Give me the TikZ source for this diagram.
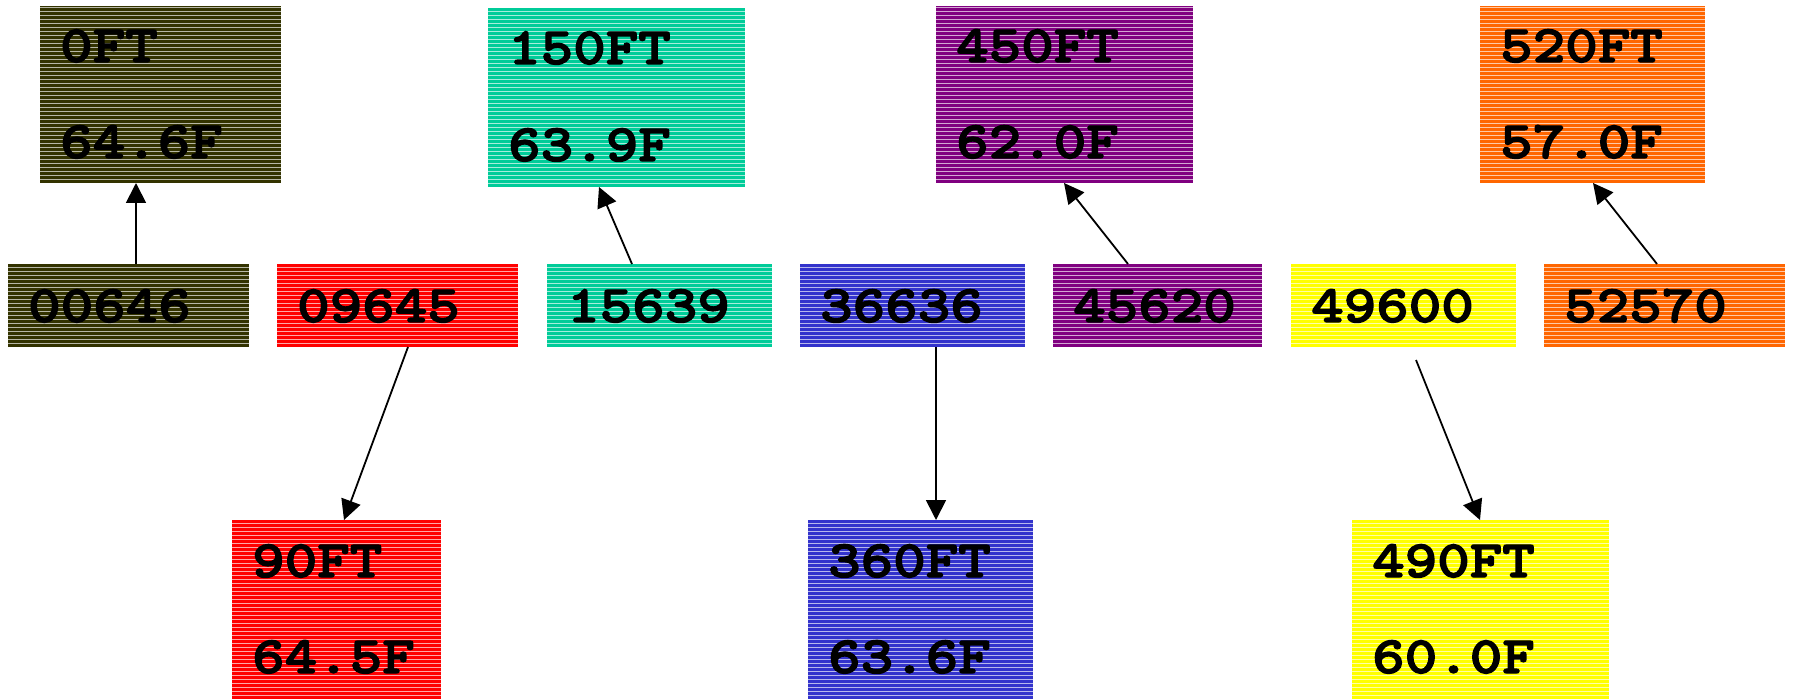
\documentclass[tikz,border=0pt]{standalone}
\usepackage{fontspec}
\newfontfamily\cour{lmmonolt10-bold.otf}[FakeStretch=1.18,FakeBold=2.5]
\usetikzlibrary{arrows.meta,patterns}
\pgfdeclarepatternformonly{hstripes}{\pgfpointorigin}{\pgfpoint{100pt}{4pt}}{\pgfpoint{100pt}{4pt}}{%
  \pgfsetlinewidth{0.6pt}%
  \pgfpathmoveto{\pgfpoint{-1pt}{0.5pt}}\pgfpathlineto{\pgfpoint{101pt}{0.5pt}}\pgfusepath{stroke}}
\definecolor{olive}{HTML}{333300}
\definecolor{teal}{HTML}{00CC99}
\definecolor{purp}{HTML}{800080}
\definecolor{orng}{HTML}{FF6600}
\definecolor{redc}{HTML}{FF0000}
\definecolor{blu}{HTML}{3333CC}
\definecolor{yel}{HTML}{FFFF00}
\tikzset{
  box/.style={rectangle, inner sep=0pt, outer sep=0pt, anchor=north west,
    postaction={pattern=hstripes, pattern color=white}},
  txt/.style={anchor=base west, inner sep=0pt, font=\cour\fontsize{52.5}{60}\selectfont},
  conn/.style={line width=1.8pt, -{Triangle[length=20pt,width=20pt]}}
}
\begin{document}
\begin{tikzpicture}[x=1pt,y=-1pt]
\useasboundingbox (0,0) rectangle (1793,700);
% top boxes
\node[box, fill=olive, minimum width=241pt, minimum height=177pt] (t0) at (40,6) {};
\node[box, fill=teal, minimum width=257pt, minimum height=179pt] (t150) at (488,8) {};
\node[box, fill=purp, minimum width=257pt, minimum height=177pt] (t450) at (936,6) {};
\node[box, fill=orng, minimum width=225pt, minimum height=177pt] (t520) at (1480,6) {};
% middle boxes
\node[box, fill=olive, minimum width=241pt, minimum height=83pt] (s00646) at (8,264) {};
\node[box, fill=redc, minimum width=241pt, minimum height=83pt] (s09645) at (277,264) {};
\node[box, fill=teal, minimum width=225pt, minimum height=83pt] (s15639) at (547,264) {};
\node[box, fill=blu, minimum width=225pt, minimum height=83pt] (s36636) at (800,264) {};
\node[box, fill=purp, minimum width=209pt, minimum height=83pt] (s45620) at (1053,264) {};
\node[box, fill=yel, minimum width=225pt, minimum height=83pt] (s49600) at (1291,264) {};
\node[box, fill=orng, minimum width=241pt, minimum height=83pt] (s52570) at (1544,264) {};
% bottom boxes
\node[box, fill=redc, minimum width=209pt, minimum height=179pt] (b90) at (232,520) {};
\node[box, fill=blu, minimum width=225pt, minimum height=179pt] (b360) at (808,520) {};
\node[box, fill=yel, minimum width=257pt, minimum height=179pt] (b490) at (1352,520) {};
% texts
\node[txt] (t0a) at ([xshift=20pt,yshift=-56pt]t0.north west) {0FT};
\node[txt] (t0b) at ([xshift=20pt,yshift=-152pt]t0.north west) {64.6F};
\node[txt] (t150a) at ([xshift=20pt,yshift=-56pt]t150.north west) {150FT};
\node[txt] (t150b) at ([xshift=20pt,yshift=-153pt]t150.north west) {63.9F};
\node[txt] (t450a) at ([xshift=20pt,yshift=-56pt]t450.north west) {450FT};
\node[txt] (t450b) at ([xshift=20pt,yshift=-152pt]t450.north west) {62.0F};
\node[txt] (t520a) at ([xshift=20pt,yshift=-56pt]t520.north west) {520FT};
\node[txt] (t520b) at ([xshift=20pt,yshift=-152pt]t520.north west) {57.0F};
\node[txt] (s00646t) at ([xshift=20pt,yshift=-58pt]s00646.north west) {00646};
\node[txt] (s09645t) at ([xshift=20pt,yshift=-58pt]s09645.north west) {09645};
\node[txt] (s15639t) at ([xshift=20pt,yshift=-58pt]s15639.north west) {15639};
\node[txt] (s36636t) at ([xshift=20pt,yshift=-58pt]s36636.north west) {36636};
\node[txt] (s45620t) at ([xshift=20pt,yshift=-58pt]s45620.north west) {45620};
\node[txt] (s49600t) at ([xshift=20pt,yshift=-58pt]s49600.north west) {49600};
\node[txt] (s52570t) at ([xshift=20pt,yshift=-58pt]s52570.north west) {52570};
\node[txt] (b90a) at ([xshift=20pt,yshift=-57pt]b90.north west) {90FT};
\node[txt] (b90b) at ([xshift=20pt,yshift=-153pt]b90.north west) {64.5F};
\node[txt] (b360a) at ([xshift=20pt,yshift=-57pt]b360.north west) {360FT};
\node[txt] (b360b) at ([xshift=20pt,yshift=-153pt]b360.north west) {63.6F};
\node[txt] (b490a) at ([xshift=20pt,yshift=-57pt]b490.north west) {490FT};
\node[txt] (b490b) at ([xshift=20pt,yshift=-153pt]b490.north west) {60.0F};
% connectors
\draw[conn] ([xshift=128pt]s00646.north west) -- ([xshift=96pt]t0.south west);
\draw[conn] ([xshift=131pt]s09645.south west) -- ([xshift=112pt]b90.north west);
\draw[conn] ([xshift=85pt]s15639.north west) -- ([xshift=111pt]t150.south west);
\draw[conn] ([xshift=136pt]s36636.south west) -- ([xshift=128pt]b360.north west);
\draw[conn] ([xshift=75pt]s45620.north west) -- ([xshift=128pt]t450.south west);
\draw[conn] ([xshift=125pt,yshift=-13pt]s49600.south west) -- ([xshift=128pt]b490.north west);
\draw[conn] ([xshift=113pt]s52570.north west) -- ([xshift=113pt]t520.south west);
\end{tikzpicture}
\end{document}
